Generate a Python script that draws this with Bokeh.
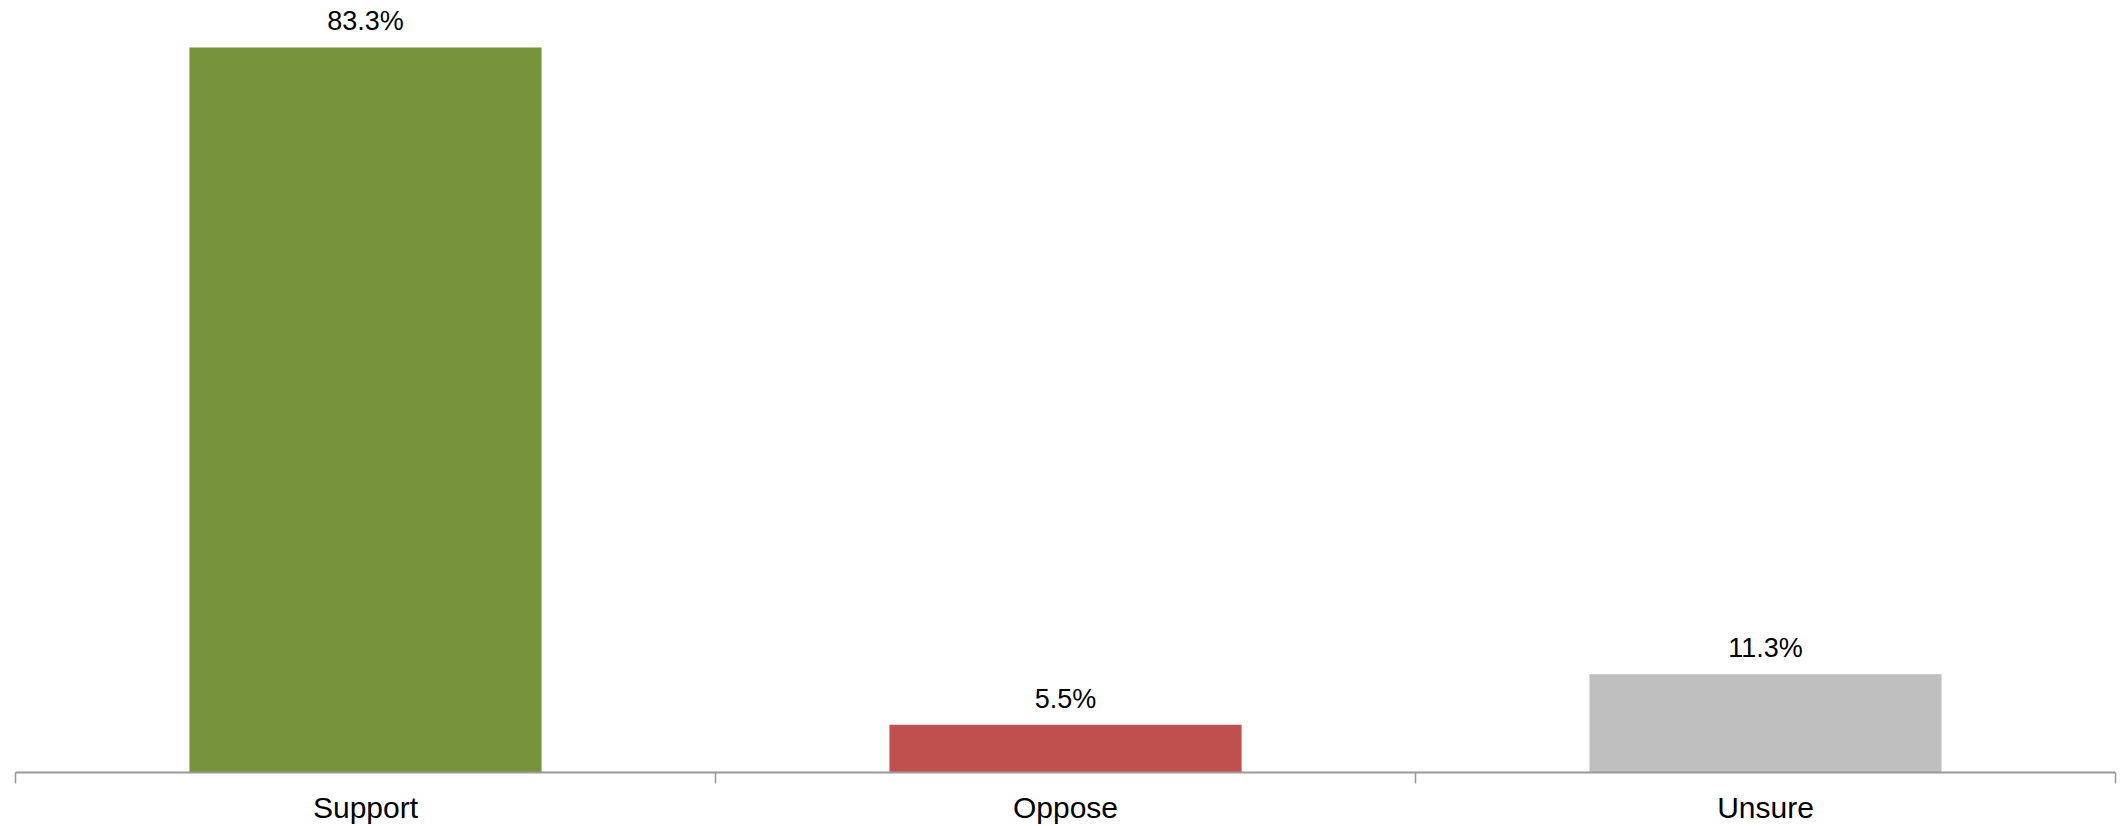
from bokeh.plotting import figure
from bokeh.models import ColumnDataSource, FixedTicker, Range1d
from bokeh.core.properties import value
from bokeh.embed import file_html
from bokeh.resources import INLINE

categories = ["Support", "Oppose", "Unsure"]
values = [83.3, 5.5, 11.3]
colors = ["#77933C", "#C0504D", "#BFBFBF"]

centers = [i + 0.5 for i in range(len(categories))]
labels = [f"{v}%" for v in values]

src = ColumnDataSource(dict(x=centers, top=values, color=colors, label=labels))

p = figure(width=2120, height=826, output_backend="svg", toolbar_location=None,
           x_range=Range1d(0, len(categories)), y_range=Range1d(0, 88),
           min_border_left=15, min_border_right=5, min_border_top=6, min_border_bottom=0)

p.vbar(x="x", top="top", bottom=0, width=0.503, color="color", line_color=None, source=src)
p.text(x="x", y="top", text="label", source=src, text_align="center",
       text_baseline="alphabetic", y_offset=-26, text_font=value("Liberation Sans"),
       text_font_size="27px", text_color="#000000")

p.yaxis.visible = False
p.xgrid.visible = False
p.ygrid.visible = False
p.outline_line_color = None
p.background_fill_color = "white"
p.border_fill_color = "white"

ax = p.xaxis[0]
ax.ticker = FixedTicker(ticks=centers, minor_ticks=list(range(len(categories) + 1)))
ax.major_label_overrides = {c: n for c, n in zip(centers, categories)}
ax.major_tick_in = 0
ax.major_tick_out = 0
ax.minor_tick_in = 0
ax.minor_tick_out = 11
ax.axis_line_color = "#999999"
ax.axis_line_width = 2
ax.minor_tick_line_color = "#999999"
ax.minor_tick_line_width = 1.5
ax.major_label_text_font = "Liberation Sans"
ax.major_label_text_font_size = "30px"
ax.major_label_text_color = "#000000"
ax.major_label_standoff = 7

open("out.html", "w").write(file_html(p, INLINE))
